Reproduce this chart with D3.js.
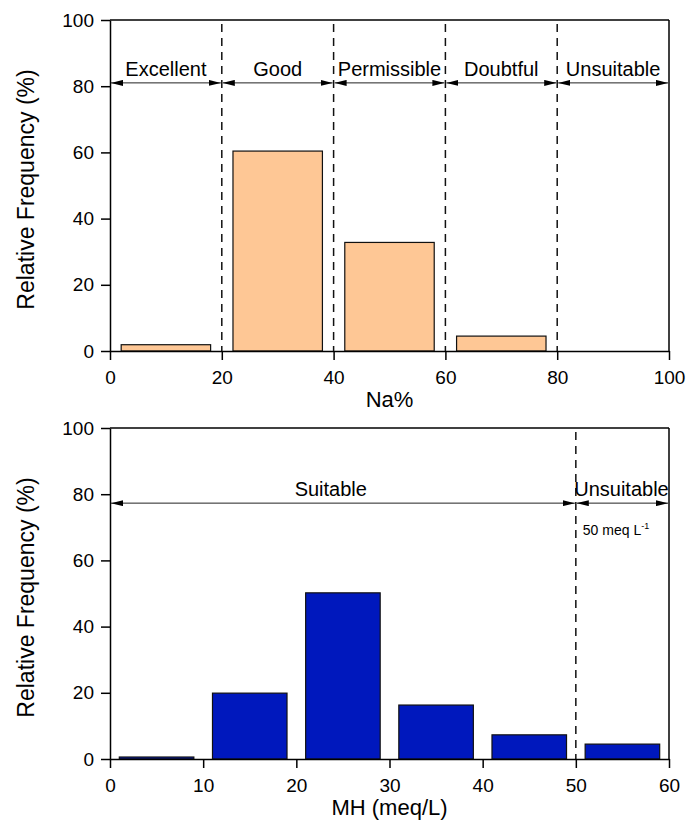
<!DOCTYPE html>
<html>
<head>
<meta charset="utf-8">
<script src="https://d3js.org/d3.v7.min.js"></script>
<style>
  body { margin: 0; background: #fff; }
  text { font-family: "Liberation Sans", Arial, sans-serif; fill: #000; }
</style>
</head>
<body>
<script>
// top panel: Na% classes
var naBins = [[0, 20], [20, 40], [40, 60], [60, 80], [80, 100]];
var naFreq = [1.9, 60.4, 32.8, 4.5, 0];
var naClasses = ["Excellent", "Good", "Permissible", "Doubtful", "Unsuitable"];
var naTicks = [0, 20, 40, 60, 80, 100];

// bottom panel: MH classes
var mhBins = [[0, 10], [10, 20], [20, 30], [30, 40], [40, 50], [50, 60]];
var mhFreq = [0.6, 19.9, 50.2, 16.3, 7.3, 4.5];
var mhZones = [[0, 50, "Suitable", 23.7], [50, 60, "Unsuitable", 54.9]];
var mhTicks = [0, 10, 20, 30, 40, 50, 60];
var yTicks = [0, 20, 40, 60, 80, 100];

var W = 692, H = 822;
var left = 110, right = 669;

var svg = d3.select("body").append("svg")
    .attr("width", W)
    .attr("height", H);

var defs = svg.append("defs");
defs.append("marker")
    .attr("id", "arr")
    .attr("viewBox", "0 0 12 6")
    .attr("refX", 12).attr("refY", 3)
    .attr("markerWidth", 12).attr("markerHeight", 6)
    .attr("markerUnits", "userSpaceOnUse")
    .attr("orient", "auto-start-reverse")
  .append("path")
    .attr("d", "M0,0L12,3L0,6Z")
    .attr("fill", "#000");

function panel(opt) {
    var x = d3.scaleLinear().domain(opt.xdom).range([left, right]);
    var y = d3.scaleLinear().domain([0, 100]).range([opt.bottom, opt.top]);
    var g = svg.append("g");

    // bars
    g.selectAll("rect.bar")
        .data(opt.bins)
      .enter().append("rect")
        .attr("class", "bar")
        .attr("x", function(d) { return x(d[0] + opt.inset); })
        .attr("width", function(d) { return x(d[1] - opt.inset) - x(d[0] + opt.inset); })
        .attr("y", function(d, i) { return y(opt.freq[i]); })
        .attr("height", function(d, i) { return y(0) - y(opt.freq[i]); })
        .attr("fill", opt.color)
        .attr("stroke", "#111")
        .attr("stroke-width", 1.2)
        .style("display", function(d, i) { return opt.freq[i] > 0 ? null : "none"; });

    // dashed class boundaries
    g.selectAll("line.bound")
        .data(opt.bounds)
      .enter().append("line")
        .attr("x1", function(d) { return x(d); })
        .attr("x2", function(d) { return x(d); })
        .attr("y1", y(100) + 4)
        .attr("y2", y(0))
        .attr("stroke", "#111")
        .attr("stroke-width", 1.5)
        .attr("stroke-dasharray", "8,6");

    // arrows + class labels
    var ay = y(opt.arrowAt);
    var za = g.selectAll("g.zone")
        .data(opt.zones)
      .enter().append("g");
    za.append("line")
        .attr("x1", function(d) { return x(d[0]) + 1; })
        .attr("x2", function(d) { return x(d[1]) - 1; })
        .attr("y1", ay).attr("y2", ay)
        .attr("stroke", "#222")
        .attr("stroke-width", 1)
        .attr("marker-start", "url(#arr)")
        .attr("marker-end", "url(#arr)");
    za.append("text")
        .attr("x", function(d) { return x(d[3]); })
        .attr("y", ay - 7)
        .attr("text-anchor", "middle")
        .style("font-size", "20px")
        .text(function(d) { return d[2]; });

    // frame
    g.append("line").attr("x1", left).attr("x2", right).attr("y1", y(100)).attr("y2", y(100))
        .attr("stroke", "#000").attr("stroke-width", 1.5);
    g.append("line").attr("x1", right).attr("x2", right).attr("y1", y(100)).attr("y2", y(0))
        .attr("stroke", "#000").attr("stroke-width", 1.5);

    var xAxis = d3.axisBottom(x).tickValues(opt.xticks).tickSize(9).tickPadding(11).tickSizeOuter(0);
    var yAxis = d3.axisLeft(y).tickValues(yTicks).tickSize(9).tickPadding(7).tickSizeOuter(0);

    var gx = g.append("g")
        .attr("transform", "translate(0," + y(0) + ")")
        .call(xAxis);
    var gy = g.append("g")
        .attr("transform", "translate(" + left + ",0)")
        .call(yAxis);
    [gx, gy].forEach(function(a) {
        a.selectAll("path, line").attr("stroke", "#000").attr("stroke-width", 1.5);
        a.selectAll("text").style("font-size", "19px").attr("fill", "#000");
    });

    // axis titles
    g.append("text")
        .attr("x", (left + right) / 2)
        .attr("y", y(0) + 56)
        .attr("text-anchor", "middle")
        .style("font-size", "22px")
        .text(opt.xtitle);
    g.append("text")
        .attr("transform", "translate(34," + ((opt.top + opt.bottom) / 2 + 4) + ") rotate(-90)")
        .attr("text-anchor", "middle")
        .style("font-size", "23px")
        .text("Relative Frequency (%)");

    return { x: x, y: y, g: g };
}

var top1 = panel({
    xdom: [0, 100], top: 20, bottom: 351,
    bins: naBins, freq: naFreq, inset: 2, color: "#FEC795",
    bounds: [20, 40, 60, 80], arrowAt: 81,
    zones: naBins.map(function(b, i) { return [b[0], b[1], naClasses[i], (b[0] + b[1]) / 2]; }),
    xticks: naTicks, xtitle: "Na%"
});

var bot = panel({
    xdom: [0, 60], top: 428, bottom: 759,
    bins: mhBins, freq: mhFreq, inset: 1, color: "#0018BD",
    bounds: [50], arrowAt: 77.3,
    zones: mhZones,
    xticks: mhTicks, xtitle: "MH (meq/L)"
});

// threshold note
var note = bot.g.append("text")
    .attr("x", bot.x(50) + 7)
    .attr("y", 535)
    .style("font-size", "14px");
note.append("tspan").text("50 meq L");
note.append("tspan").attr("dy", -6).style("font-size", "9px").text("-1");
</script>
</body>
</html>
